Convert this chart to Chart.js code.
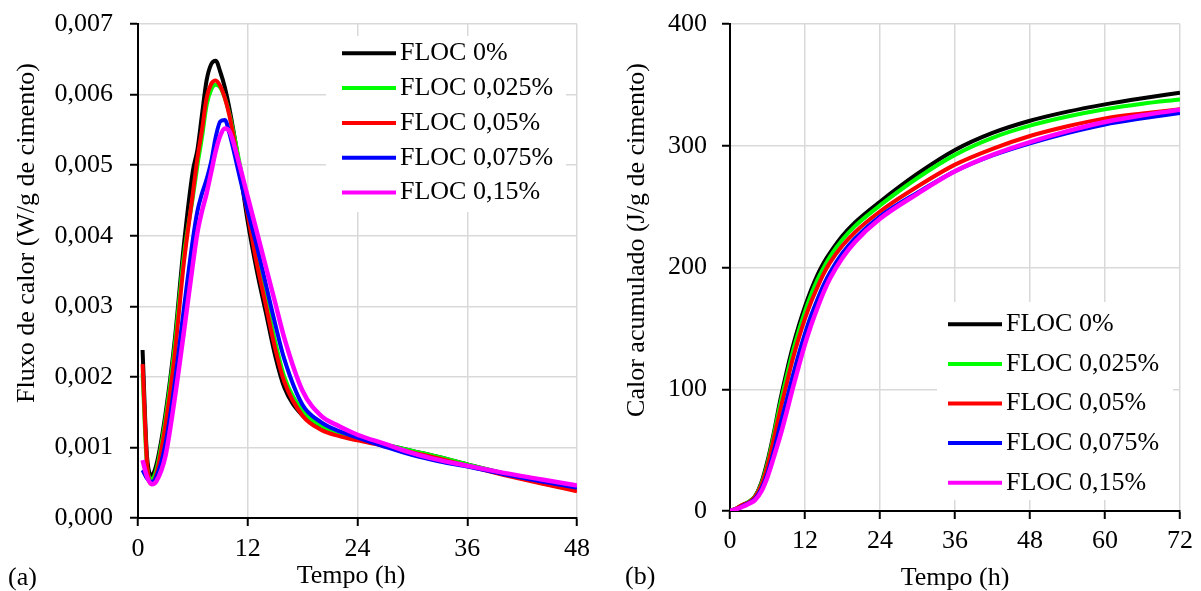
<!DOCTYPE html>
<html>
<head>
<meta charset="utf-8">
<script src="https://cdn.jsdelivr.net/npm/chart.js@4/dist/chart.umd.min.js"></script>
<style>
  html, body { margin: 0; padding: 0; background: #fff; }
  #wrap { position: relative; width: 1201px; height: 591px; }
  .painel { position: absolute; top: 0; height: 591px; }
</style>
</head>
<body>
<div id="wrap">
  <div class="painel" style="left:0;width:600px"><canvas id="fluxoChart"></canvas></div>
  <div class="painel" style="left:600px;width:601px"><canvas id="calorChart"></canvas></div>
</div>
<script>
  // series names + colours
  const rotulos = ["FLOC 0%", "FLOC 0,025%", "FLOC 0,05%", "FLOC 0,075%", "FLOC 0,15%"];
  const cores = ["#000000", "#00ff00", "#ff0000", "#0000ff", "#ff00ff"];

  // (a) heat flow, W/g de cimento
  const horasFluxo = [0.5, 1, 1.5, 2, 3, 4, 5, 6, 6.5, 7, 7.5, 8, 8.5, 9, 9.5, 10, 11, 12, 13, 14, 15, 16, 18, 20, 22, 24, 27, 30, 33, 36, 40, 44, 48];
  const fluxo0 = [0.00238, 0.00085, 0.00061, 0.00075, 0.00147, 0.00250, 0.00385, 0.00492, 0.00522, 0.00572, 0.00620, 0.00643, 0.00648, 0.00632, 0.00610, 0.00580, 0.00505, 0.00420, 0.00350, 0.00290, 0.00230, 0.00185, 0.00145, 0.00128, 0.00119, 0.00113, 0.00104, 0.00095, 0.00086, 0.00076, 0.00063, 0.00050, 0.00040];
  const fluxo025 = [0.00205, 0.00072, 0.00055, 0.00068, 0.00140, 0.00242, 0.00370, 0.00455, 0.00500, 0.00540, 0.00585, 0.00607, 0.00614, 0.00610, 0.00595, 0.00572, 0.00510, 0.00440, 0.00370, 0.00310, 0.00250, 0.00200, 0.00152, 0.00131, 0.00120, 0.00113, 0.00104, 0.00095, 0.00086, 0.00076, 0.00063, 0.00051, 0.00041];
  const fluxo05 = [0.00218, 0.00075, 0.00048, 0.00062, 0.00132, 0.00230, 0.00360, 0.00460, 0.00510, 0.00550, 0.00595, 0.00615, 0.00620, 0.00612, 0.00595, 0.00570, 0.00500, 0.00430, 0.00360, 0.00300, 0.00240, 0.00193, 0.00145, 0.00125, 0.00116, 0.00110, 0.00102, 0.00093, 0.00084, 0.00074, 0.00061, 0.00049, 0.00038];
  const fluxo075 = [0.00068, 0.00056, 0.00051, 0.00058, 0.00105, 0.00190, 0.00295, 0.00395, 0.00435, 0.00460, 0.00480, 0.00505, 0.00540, 0.00562, 0.00564, 0.00545, 0.00490, 0.00435, 0.00385, 0.00330, 0.00275, 0.00225, 0.00160, 0.00136, 0.00123, 0.00114, 0.00101, 0.00089, 0.00080, 0.00073, 0.00062, 0.00052, 0.00043];
  const fluxo15 = [0.00082, 0.00058, 0.00048, 0.00052, 0.00088, 0.00168, 0.00262, 0.00360, 0.00405, 0.00435, 0.00460, 0.00490, 0.00520, 0.00542, 0.00552, 0.00548, 0.00505, 0.00455, 0.00405, 0.00355, 0.00305, 0.00255, 0.00180, 0.00145, 0.00130, 0.00118, 0.00105, 0.00092, 0.00082, 0.00074, 0.00064, 0.00055, 0.00046];

  // (b) cumulative heat, J/g de cimento
  const horasCalor = [0, 1, 2, 3, 4, 5, 6, 7, 8, 9, 10, 11, 12, 13, 14, 15, 16, 18, 20, 24, 30, 36, 42, 48, 54, 60, 66, 72];
  const calor0 = [0, 2, 5, 7.5, 12, 23, 41, 64, 90, 113, 134, 152, 168, 182, 194, 204, 212, 226, 237, 254, 277, 296.5, 310.5, 320.5, 328, 334, 339, 343.5];
  const calor025 = [0, 2, 5, 7.5, 12, 22, 39, 62, 87, 109, 130, 148, 164, 178, 190, 200, 209, 223, 234, 251, 273.5, 292.5, 306.5, 316.5, 324, 330, 334.5, 338];
  const calor05 = [0, 2, 5, 7, 11.5, 21, 37, 59, 82, 103, 124, 142, 158, 172, 184, 195, 204, 218, 229, 246, 266.5, 284.5, 297.5, 308, 316, 322.5, 326.5, 330];
  const calor075 = [0, 1.5, 4, 6.5, 10, 18, 31, 49, 70, 90, 110, 129, 146, 161, 174, 186, 196, 212, 224, 242, 261.5, 279, 292, 302, 310.5, 317.5, 322.5, 327];
  const calor15 = [0, 1.5, 3.5, 6, 9, 16, 28, 44, 61, 80, 100, 119, 137, 153, 167, 180, 191, 208, 221, 240, 260.5, 279, 292.5, 303, 312, 319.5, 325, 329.5];

  const fonte = "'Liberation Serif', 'Times New Roman', serif";
  Chart.defaults.font.family = fonte;
  Chart.defaults.font.size = 26;
  Chart.defaults.color = "#000";

  function series(horas, listas) {
    return listas.map((vals, i) => ({
      label: rotulos[i],
      data: horas.map((h, k) => ({ x: h, y: vals[k] })),
      borderColor: cores[i],
      backgroundColor: cores[i],
      borderWidth: i === 4 ? 4.5 : 4,
      pointRadius: 0,
      cubicInterpolationMode: "monotone",
      order: 5 - i, // pink on top, black at the back
    }));
  }

  // axis titles, panel tag and the boxed legend
  const extras = {
    id: "extras",
    afterDraw(chart, args, o) {
      const ctx = chart.ctx;
      ctx.save();
      ctx.font = "26px " + fonte;
      ctx.fillStyle = "#000";
      ctx.textBaseline = "middle";
      ctx.textAlign = "center";
      ctx.fillText(o.xTitle, o.xTitlePos[0], o.xTitlePos[1]);
      ctx.save();
      ctx.translate(o.yTitlePos[0], o.yTitlePos[1]);
      ctx.rotate(-Math.PI / 2);
      ctx.fillText(o.yTitle, 0, 0);
      ctx.restore();
      ctx.textAlign = "left";
      ctx.fillText(o.tag, o.tagPos[0], o.tagPos[1]);

      const lg = o.legenda;
      ctx.fillStyle = "#fff";
      ctx.fillRect(lg.box[0], lg.box[1], lg.box[2], lg.box[3]);
      chart.data.datasets.forEach((ds, i) => {
        const y = lg.y0 + i * lg.dy;
        ctx.strokeStyle = ds.borderColor;
        ctx.lineWidth = 4;
        ctx.beginPath();
        ctx.moveTo(lg.x1, y);
        ctx.lineTo(lg.x2, y);
        ctx.stroke();
        ctx.fillStyle = "#000";
        ctx.fillText(ds.label, lg.textX, y);
      });
      ctx.restore();
    },
  };

  function eixos(xMax, yMax, yStep, yFmt, yWidth, xHeight, xPad, yPad) {
    const grid = { color: "#d9d9d9", lineWidth: 1.5, tickColor: "#000", tickLength: 8, tickWidth: 2 };
    const f = { family: fonte, size: 26 };
    return {
      x: {
        type: "linear", min: 0, max: xMax,
        ticks: { stepSize: 12, padding: xPad, maxRotation: 0, font: f, color: "#000" },
        grid: grid,
        border: { color: "#000", width: 2 },
        afterFit: (s) => { s.height = xHeight; },
      },
      y: {
        min: 0, max: yMax,
        ticks: { stepSize: yStep, padding: yPad, callback: yFmt, font: f, color: "#000" },
        grid: grid,
        border: { color: "#000", width: 2 },
        // fixed width; drop the label overflow padding so the top edge follows layout.padding
        afterFit: (s) => { s.width = yWidth; s.paddingTop = 0; s.paddingBottom = 0; },
      },
    };
  }

  new Chart(document.getElementById("fluxoChart"), {
    type: "line",
    data: { datasets: series(horasFluxo, [fluxo0, fluxo025, fluxo05, fluxo075, fluxo15]) },
    options: {
      responsive: true,
      maintainAspectRatio: false,
      animation: false,
      layout: { autoPadding: false, padding: { top: 24, right: 23, left: 0, bottom: 0 } },
      scales: eixos(48, 0.007, 0.001, (v) => v.toFixed(3).replace(".", ","), 138, 73, 8, 17),
      plugins: {
        legend: { display: false },
        tooltip: { enabled: false },
        extras: {
          xTitle: "Tempo (h)", xTitlePos: [351, 576],
          yTitle: "Fluxo de calor (W/g de cimento)", yTitlePos: [27, 233],
          tag: "(a)", tagPos: [8, 578],
          legenda: { box: [326, 36, 240, 176], x1: 342, x2: 396, textX: 400, y0: 53.3, dy: 34.8 },
        },
      },
    },
    plugins: [extras],
  });

  new Chart(document.getElementById("calorChart"), {
    type: "line",
    data: { datasets: series(horasCalor, [calor0, calor025, calor05, calor075, calor15]) },
    options: {
      responsive: true,
      maintainAspectRatio: false,
      animation: false,
      layout: { autoPadding: false, padding: { top: 24, right: 21, left: 0, bottom: 0 } },
      scales: eixos(72, 400, 100, (v) => String(v), 130, 80, 7, 15),
      plugins: {
        legend: { display: false },
        tooltip: { enabled: false },
        extras: {
          xTitle: "Tempo (h)", xTitlePos: [355, 578],
          yTitle: "Calor acumulado (J/g de cimento)", yTitlePos: [37, 240],
          tag: "(b)", tagPos: [25, 577],
          legenda: { box: [337, 302, 236, 198], x1: 348, x2: 402, textX: 406, y0: 324.3, dy: 39.6 },
        },
      },
    },
    plugins: [extras],
  });
</script>
</body>
</html>
